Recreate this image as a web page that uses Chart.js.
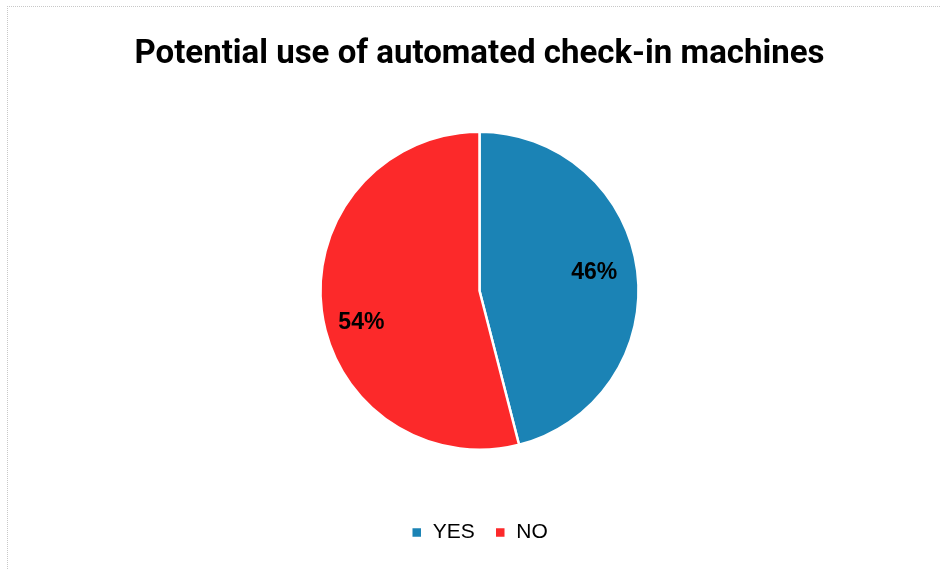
<!DOCTYPE html>
<html>
<head>
<meta charset="utf-8">
<script src="https://cdn.jsdelivr.net/npm/chart.js@4/dist/chart.umd.min.js"></script>
<style>
  html, body { margin: 0; padding: 0; background: #fff; overflow: hidden; }
  #wrap { position: relative; width: 941px; height: 570px; }
  #cadre { position: absolute; left: 7px; top: 6px; width: 960px; height: 600px;
           border-top: 1px dotted #c8c8c8; border-left: 1px dotted #c8c8c8; }
  canvas { position: absolute; left: 0; top: 0; }
</style>
</head>
<body>
<div id="wrap">
  <div id="cadre"></div>
  <canvas id="graphique" width="941" height="570"></canvas>
</div>
<script>
const categories = ['YES', 'NO'];
const valeurs = [46, 54];
const couleurs = ['#1b83b5', '#fc292a'];
const titre = 'Potential use of automated check-in machines';

// Étiquettes de pourcentage dessinées dans chaque part
// (petit décalage d'angle pour imiter le placement "meilleur ajustement")
const decalageAngle = [-0.03, -0.14];
const rayonEtiquette = [0.73, 0.77];
const etiquettesParts = {
  id: 'etiquettesParts',
  afterDatasetsDraw(chart) {
    const ctx = chart.ctx;
    const meta = chart.getDatasetMeta(0);
    const total = valeurs.reduce((a, b) => a + b, 0);
    ctx.save();
    ctx.font = 'bold 23px "Liberation Sans", Arial, sans-serif';
    ctx.fillStyle = '#000';
    ctx.textAlign = 'center';
    ctx.textBaseline = 'middle';
    meta.data.forEach((arc, i) => {
      const p = arc.getProps(['x', 'y', 'startAngle', 'endAngle', 'outerRadius']);
      const milieu = (p.startAngle + p.endAngle) / 2 + decalageAngle[i];
      const r = p.outerRadius * rayonEtiquette[i];
      const x = p.x + Math.cos(milieu) * r;
      const y = p.y + Math.sin(milieu) * r;
      ctx.fillText(Math.round(valeurs[i] / total * 100) + '%', x, y);
    });
    ctx.restore();
  }
};

new Chart(document.getElementById('graphique').getContext('2d'), {
  type: 'pie',
  data: {
    labels: categories,
    datasets: [{
      data: valeurs,
      backgroundColor: couleurs,
      borderColor: '#ffffff',
      borderWidth: 2.5,
      radius: 159
    }]
  },
  options: {
    responsive: false,
    animation: false,
    layout: { padding: { left: 18, right: 0, top: 0, bottom: 17 } },
    plugins: {
      title: {
        display: true,
        text: titre,
        color: '#000',
        font: { family: '"Roboto", sans-serif', size: 33, weight: 'bold' },
        padding: { top: 35, bottom: 5 }
      },
      legend: {
        position: 'bottom',
        labels: {
          color: '#000',
          boxWidth: 11,
          boxHeight: 11,
          padding: 20,
          font: { family: '"Liberation Sans", Arial, sans-serif', size: 21 }
        }
      },
      tooltip: { enabled: false }
    }
  },
  plugins: [etiquettesParts]
});
</script>
</body>
</html>
